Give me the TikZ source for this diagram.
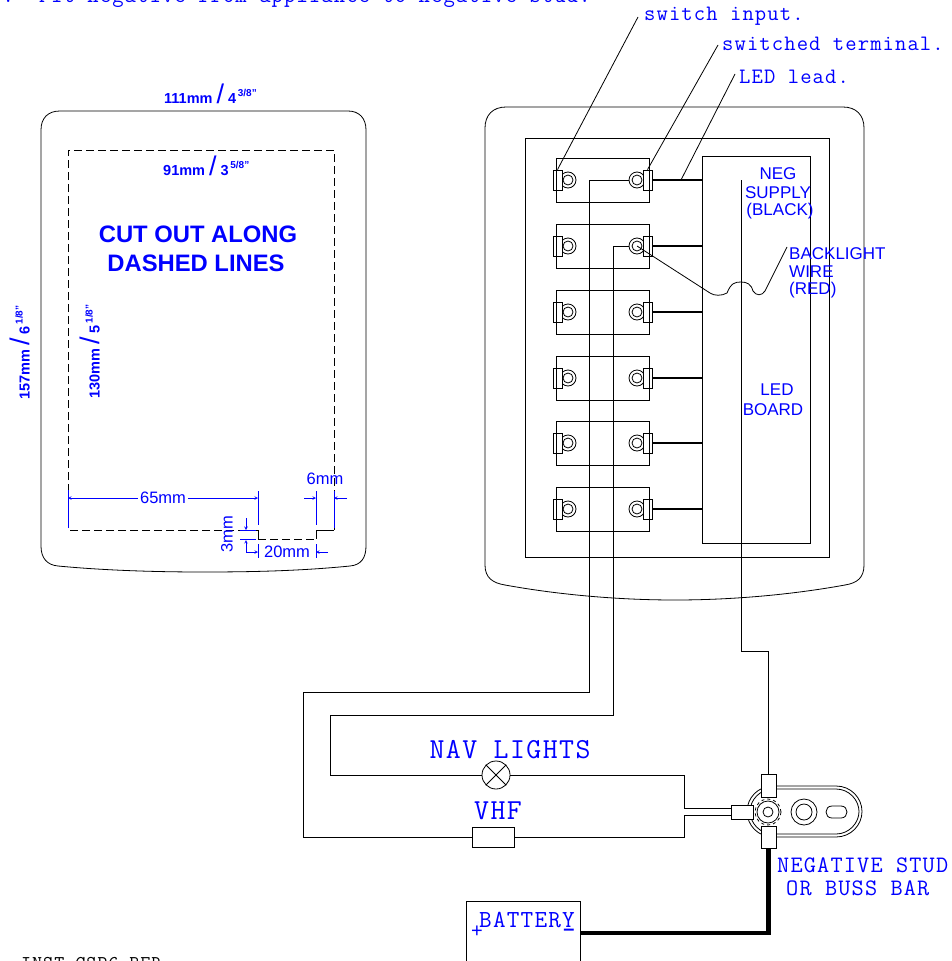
\documentclass[tikz,border=0pt]{standalone}
\usepackage{fontspec}
\setmainfont{Liberation Sans}
\newfontfamily\cadfont[LetterSpace=5]{Latin Modern Mono}
\usepackage{tikz}
\usetikzlibrary{positioning,arrows}
\definecolor{inkblue}{RGB}{0,0,255}
\newcommand{\sizedimen}[3]{#1\;{\fontsize{27}{27}\selectfont\mdseries/}\;#2\raisebox{7pt}{\fontsize{10}{10}\selectfont\,#3}}
\tikzset{
	wire/.style={draw=black,line width=0.8pt},
	heavy/.style={draw=black,line width=1.7pt},
	cutline/.style={draw=black,line width=1pt,dash pattern=on 8pt off 4pt},
	dimline/.style={draw=inkblue,line width=0.6pt,>=stealth},
	dimtext/.style={text=inkblue,font=\bfseries\fontsize{14.5}{14.5}\selectfont,inner sep=1pt},
	dimsmall/.style={text=inkblue,font=\fontsize{16.5}{16.5}\selectfont,inner sep=2pt},
	cadtext/.style={text=inkblue,font=\cadfont\fontsize{22}{22}\selectfont,inner sep=0pt},
	boardtext/.style={text=inkblue,font=\fontsize{17}{17}\selectfont,inner sep=0pt},
	termbox/.style={draw=black,fill=white,line width=0.8pt,minimum width=9pt,minimum height=20pt,inner sep=0pt},
	ringnode/.style={draw=black,fill=white,circle,line width=0.8pt,minimum size=16pt,inner sep=0pt},
	lugbox/.style={draw=black,fill=white,line width=0.8pt,inner sep=0pt}
}
\begin{document}
\begin{tikzpicture}[x=1pt,y=-1pt]
	\useasboundingbox (0,0) rectangle (951,961);
	% cut out template
	\draw[wire] (41,130) .. controls (41,118) and (48,111) .. (60,111) -- (348,111)
		.. controls (359,111) and (366,118) .. (366,130) -- (366,546)
		.. controls (366,558) and (361,565) .. (350,566)
		.. controls (300,571) and (250,572) .. (203,572)
		.. controls (150,572) and (100,570) .. (58,566)
		.. controls (47,565) and (41,558) .. (41,546) -- cycle;
	\draw[cutline] (258,530) -- (68,530) -- (68,150) -- (334,150) -- (334,530);
	\draw[cutline] (258,539) -- (316,539);
	\draw[wire,line width=1pt] (258,530) -- (258,539) (316,539) -- (316,530) -- (334,530);
	\node[dimtext,anchor=west] (topsize) at (163,94) {\sizedimen{111mm}{4}{3/8"}};
	\node[dimtext,anchor=west] (cutwidth) at (162,166) {\sizedimen{91mm}{3}{5/8"}};
	\node[dimtext,rotate=90,anchor=west] (sidesize) at (20,401) {\sizedimen{157mm}{6}{1/8"}};
	\node[dimtext,rotate=90,anchor=west] (cutheight) at (90,400) {\sizedimen{130mm}{5}{1/8"}};
	\node[text=inkblue,font=\bfseries\fontsize{23.8}{24}\selectfont,inner sep=0pt] (cuttext) at (198,234) {CUT OUT ALONG};
	\node[text=inkblue,font=\bfseries\fontsize{23.8}{24}\selectfont,inner sep=0pt] (cuttextb) at (196,263) {DASHED LINES};
	% dimensions
	\node[dimsmall] (d65) at (163,498) {65mm};
	\node[dimsmall] (d6) at (325,479) {6mm};
	\node[dimsmall] (d20) at (287,552) {20mm};
	\node[dimsmall,rotate=90] (d3) at (227,534) {3mm};
	\coordinate (notchl) at (258,498);
	\coordinate (notchr) at (316,498);
	\coordinate (cutr) at (334,498);
	\draw[dimline,->] (d65) -- (notchl);
	\draw[dimline,->] (d65) -- (68,498);
	\draw[dimline] (68,490) -- (68,528) (notchl) ++(0,-7) -- (258,525) (notchr) ++(0,-7) -- (316,525) (cutr) ++(0,-7) -- (334,528);
	\draw[dimline,->] (304,498) -- (notchr);
	\draw[dimline,->] (347,498) -- (cutr);
	\draw[dimline] (240,530) -- (256,530) (240,539) -- (256,539);
	\draw[dimline,->] (246,518) -- (246,530);
	\draw[dimline,->] (246,552) -- (246,540);
	\draw[dimline,->] (246,552) -- (258,552);
	\draw[dimline,->] (328,552) -- (316,552);
	\draw[dimline] (258,544) -- (258,558) (316,544) -- (316,558);
	% panel
	\draw[wire] (485,128) .. controls (485,115) and (493,107) .. (506,107) -- (843,107)
		.. controls (856,107) and (864,115) .. (864,128) -- (864,565)
		.. controls (864,578) and (857,583) .. (845,585)
		.. controls (790,595) and (730,600) .. (675,600)
		.. controls (620,600) and (560,595) .. (505,585)
		.. controls (493,583) and (485,578) .. (485,565) -- cycle;
	\draw[wire] (525,138) rectangle (829,557);
	\node[draw=black,line width=0.8pt,minimum width=108pt,minimum height=387pt,inner sep=0pt] (ledboard) at (756,349.5) {};
	% switches
	\foreach \n/\y in {1/180,2/246,3/312,4/378,5/443,6/509}{
		\node[draw=black,line width=0.8pt,minimum width=93pt,minimum height=44pt,inner sep=0pt] (sw\n) at (602.5,\y) {};
		\node[ringnode] (rl\n) at (568,\y) {};
		\node[ringnode] (rr\n) at (637,\y) {};
		\draw[wire,fill=white] (rl\n) circle (5);
		\draw[wire,fill=white] (rr\n) circle (5);
		\node[termbox] (tl\n) at (557.5,\y) {};
		\node[termbox] (tr\n) at (647.5,\y) {};
		\draw[wire] (556,\y-10) -- (556,\y+10) (649,\y-10) -- (649,\y+10);
		\draw[heavy] (tr\n) -- (tr\n -| ledboard.west);
	}
	% backlight and board labels
	\node[boardtext] (negtxt) at (778,174) {NEG};
	\node[boardtext] (suptxt) at (778,193) {SUPPLY};
	\node[boardtext] (blktxt) at (780,211) {(BLACK)};
	\node[boardtext,anchor=west] (bltxt) at (789,254) {BACKLIGHT};
	\node[boardtext,anchor=west] (wiretxt) at (789,272) {WIRE};
	\node[boardtext,anchor=west] (redtxt) at (789,290) {(RED)};
	\node[boardtext] (ledtxt) at (777,390) {LED};
	\node[boardtext] (brdtxt) at (773,410) {BOARD};
	\draw[wire] (rr2.center) -- (710,293) .. controls (714,296) and (722,296) .. (727,293)
		.. controls (731,283) and (735,282) .. (741,282) .. controls (747,282) and (751,284) .. (753,291)
		.. controls (756,296) and (762,296) .. (765,291) -- (787,247);
	% callouts
	\node[cadtext,anchor=west] (inputtxt) at (644,16) {switch input.};
	\node[cadtext,anchor=west] (termtxt) at (722,44) {switched terminal.};
	\node[cadtext,anchor=west] (leadtxt) at (739,77) {LED lead.};
	\draw[wire] (inputtxt.west) ++(-6,1) -- (tl1.north);
	\draw[wire] (termtxt.west) ++(-4,1) -- (tr1.north);
	\coordinate (leadend) at (681,180);
	\draw[wire] (leadtxt.west) ++(-4,-3) -- (leadend);
	\node[cadtext,anchor=base west] (steptxt) at (-10,2.5) {7.\ \ Fit negative from appliance to negative stud.};
	% loads
	\node[draw=black,circle,line width=0.8pt,minimum size=28pt,inner sep=0pt] (lamp) at (496,775) {};
	\draw[wire] (lamp.north west) -- (lamp.south east) (lamp.north east) -- (lamp.south west);
	\node[draw=black,line width=0.8pt,minimum width=42pt,minimum height=20pt,inner sep=0pt] (fuse) at (493,837) {};
	\node[cadtext,font=\cadfont\fontsize{29}{29}\selectfont] (navtxt) at (510,750) {NAV LIGHTS};
	\node[cadtext,font=\cadfont\fontsize{29}{29}\selectfont] (vhftxt) at (498,811) {VHF};
	% stud
	\draw[wire] (773,786) -- (836,786) .. controls (851,786) and (862,798) .. (862,811.5) .. controls (862,825) and (851,837) .. (836,837) -- (773,837)
		.. controls (758,837) and (747,825) .. (747,811.5) .. controls (747,798) and (758,786) .. (773,786);
	\draw[wire] (773,789) -- (836,789) .. controls (849,789) and (859,800) .. (859,811.5) .. controls (859,823) and (849,834) .. (836,834) -- (773,834)
		.. controls (760,834) and (750,823) .. (750,811.5) .. controls (750,800) and (760,789) .. (773,789);
	\node[draw=black,fill=white,circle,line width=0.8pt,dashed,minimum size=26pt,inner sep=0pt] (nut) at (768,812) {};
	\draw[wire] (nut) circle (11) (nut) circle (5);
	\draw[wire] (804,812) circle (13) (804,812) circle (8);
	\draw[wire] (832,806) -- (841,806) .. controls (849,806) and (849,818) .. (841,818) -- (832,818) .. controls (824,818) and (824,806) .. (832,806);
	\node[lugbox,minimum width=15pt,minimum height=23pt] (lugtop) at (768.5,785.5) {};
	\node[lugbox,minimum width=15pt,minimum height=22pt] (lugbot) at (768.5,837) {};
	\node[lugbox,minimum width=22pt,minimum height=14pt] (lugleft) at (742,812) {};
	\node[cadtext,font=\cadfont\fontsize{23.6}{24}\selectfont,anchor=west] (negstud) at (777,865) {NEGATIVE STUD};
	\node[cadtext,font=\cadfont\fontsize{23.6}{24}\selectfont,anchor=west] (orbuss) at (786,888) {OR BUSS BAR};
	% battery
	\node[draw=black,line width=0.8pt,minimum width=114pt,minimum height=70pt,inner sep=0pt] (battery) at (523,936) {};
	\node[cadtext,font=\cadfont\fontsize{24.5}{25}\selectfont] (battxt) at (527,920) {BATTERY};
	\node[cadtext,font=\fontsize{20}{20}\selectfont] (plus) at (477,932) {+};
	\node[cadtext,font=\bfseries\fontsize{20}{20}\selectfont] (minus) at (569,932) {--};
	\node[anchor=base west,inner sep=0pt,font=\cadfont\fontsize{19.5}{20}\selectfont] (reftxt) at (21,969) {INST CSP6 BFR};
	% wiring
	\coordinate (bendA) at (589,692);
	\coordinate (bendB) at (303,837);
	\coordinate (bendC) at (613,715);
	\coordinate (bendD) at (330,775);
	\coordinate (jogA) at (684,808);
	\coordinate (jogB) at (684,815);
	\draw[wire] (rr1.west) -| (bendA) -| (bendB) -- (fuse.west);
	\draw[wire] (fuse.east) -| (jogB) -- (jogB -| lugleft.west);
	\draw[wire] (rr2.west) -| (bendC) -| (bendD) -- (lamp.west);
	\draw[wire] (lamp.east) -| (jogA) -- (jogA -| lugleft.west);
	\coordinate (negtop) at (741,180);
	\coordinate (negjog) at (741,651);
	\draw[wire] (negtop) -- (negjog) -| (lugtop.north);
	\draw[black,line width=4.2pt] (lugbot.south) |- (battery.east |- 0,933);
\end{tikzpicture}
\end{document}
